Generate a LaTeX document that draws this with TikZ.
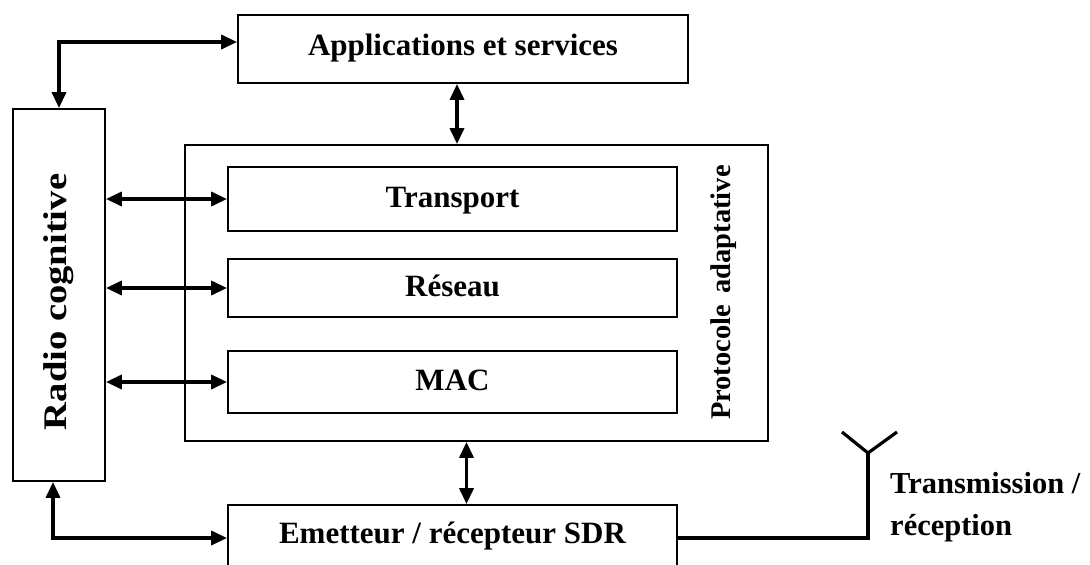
\documentclass[tikz,border=0pt]{standalone}
\usepackage{fontspec}
\usepackage{graphicx}
\newfontfamily\lblfont{Liberation Serif}
\usetikzlibrary{arrows.meta,calc}
\begin{document}
\begin{tikzpicture}[x=1pt,y=-1pt,
  box/.style={draw, line width=1.8pt, inner sep=0pt},
  blk/.style={box, text height=16pt, text depth=0pt,
    font=\lblfont\bfseries\fontsize{31}{36}\selectfont},
  dbl/.style={line width=3.5pt,
    {Triangle[length=16pt,width=14pt]}-{Triangle[length=16pt,width=14pt]}},
  wire/.style={line width=3.2pt}]
\useasboundingbox (0,0) rectangle (1090,565);
\clip (0,0) rectangle (1090,565);

% blocks
\node[blk, text height=12pt, minimum width=450, minimum height=68] (apps) at (463,49) {Applications et services};
\node[box, minimum width=583, minimum height=296] (proto) at (476.5,293) {};
\node[blk, minimum width=449, minimum height=64] (trans) at (452.5,199) {Transport};
\node[blk, minimum width=449, minimum height=58] (res) at (452.5,288) {Réseau};
\node[blk, minimum width=449, minimum height=62] (mac) at (452.5,382) {MAC};
\node[blk, text height=10pt, minimum width=449, minimum height=66] (emet) at (452.5,538) {Emetteur / récepteur SDR};
\node[box, minimum width=92, minimum height=372] (radio) at (59,295)
  {\vbox{\kern14pt\hbox{\rotatebox{90}{\scalebox{1.17}[1]{\lblfont\bfseries\fontsize{33}{38}\selectfont Radio cognitive}}}}};

% side label of the protocol stack
\node[rotate=90, anchor=base, inner sep=0pt, font=\lblfont\bfseries\fontsize{28.5}{32}\selectfont] (plab) at (730,292.5) {Protocole\hspace{0.4em}adaptative};

% connectors
\draw[dbl] ([yshift=7pt]apps.west) -| (radio.north);
\draw[dbl] ([xshift=-6pt]apps.south) -- ([xshift=-6pt]apps.south |- proto.north);
\draw[dbl] (radio.east |- trans.west) -- (trans.west);
\draw[dbl] (radio.east |- res.west) -- (res.west);
\draw[dbl] (radio.east |- mac.west) -- (mac.west);
\draw[dbl] ([xshift=14pt]emet.north |- proto.south) -- ([xshift=14pt]emet.north);
\draw[dbl] ([xshift=-6pt]radio.south) |- (emet.west);

% antenna
\coordinate (feed) at (868,453);
\coordinate (armL) at (842,432);
\coordinate (armR) at (897,432);
\draw[wire] (emet.east) -| (feed);
\draw[wire] (armL) -- (feed) -- (armR);
\node[anchor=north west, align=left, inner sep=0pt,
  font=\lblfont\bfseries\fontsize{30.5}{42}\selectfont] (tx) at (890,472) {Transmission /\\réception};
\end{tikzpicture}
\end{document}
